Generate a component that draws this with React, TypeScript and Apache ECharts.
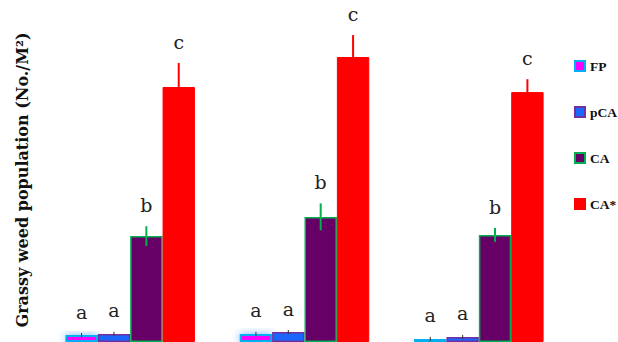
import React, { useEffect, useRef } from "react";
import * as echarts from "echarts";

const categories = ["Site 1", "Site 2", "Site 3"];
const seriesNames = ["FP", "pCA", "CA", "CA*"];
const fpValues = [2.3, 2.7, 1.0];
const pcaValues = [2.7, 3.3, 1.7];
const caValues = [35.3, 41.7, 35.7];
const caStarValues = [85, 95, 83.3];
const fpErr = [0.7, 0.7, 0.7];
const pcaErr = [0.7, 0.7, 0.7];
const caErr = [3.3, 4.5, 2.3];
const caStarErr = [8, 7.3, 4.3];
const fpLetters = ["a", "a", "a"];
const pcaLetters = ["a", "a", "a"];
const caLetters = ["b", "b", "b"];
const caStarLetters = ["c", "c", "c"];

const GAP = 0.257;

export default function App() {
  const ref = useRef<HTMLDivElement>(null);
  useEffect(() => {
    if (!ref.current) return;
    const chart = echarts.init(ref.current, null, { renderer: "svg" });
    const values = [fpValues, pcaValues, caValues, caStarValues];
    const errs = [fpErr, pcaErr, caErr, caStarErr];
    const letters = [fpLetters, pcaLetters, caLetters, caStarLetters];
    const styles = [
      { color: "#ff00ff", borderColor: "#00b0f0", borderWidth: 2, shadowBlur: 8, shadowColor: "rgba(40,140,255,0.7)" },
      { color: "#1a66ff", borderColor: "#7030a0", borderWidth: 1.5 },
      { color: "#660066", borderColor: "#00b050", borderWidth: 1.5 },
      { color: "#ff0000", borderColor: "#ff0000", borderWidth: 1 },
    ];
    const errColors = ["#333333", "#333333", "#00b050", "#ff0000"];
    const errWidths = [1, 1, 2, 2];

    const errData: any[] = [];
    const errLetters: string[] = [];
    for (let s = 0; s < 4; s++) {
      for (let c = 0; c < categories.length; c++) {
        errData.push([c, values[s][c], errs[s][c], s]);
        errLetters.push(letters[s][c]);
      }
    }

    const option: any = {
      animation: false,
      grid: { left: 43, width: 523, top: 0, bottom: 0 },
      xAxis: { type: "category", data: categories, show: false },
      yAxis: { type: "value", min: 0, max: 114, show: false },
      legend: {
        orient: "vertical",
        left: 569,
        top: 54,
        itemWidth: 10,
        itemHeight: 10,
        itemGap: 32,
        icon: "rect",
        textStyle: { fontFamily: "Liberation Serif", fontWeight: "bold", fontSize: 13.5, color: "#111" },
        data: seriesNames.map((n, i) => ({
          name: n,
          itemStyle: { color: styles[i].color, borderColor: styles[i].borderColor, borderWidth: 2, shadowBlur: 0 },
        })),
      },
      graphic: [
        {
          type: "text",
          x: 22,
          y: 180,
          rotation: Math.PI / 2,
          style: {
            text: "Grassy weed population (No./M²)",
            font: "bold 16px 'DejaVu Serif'",
            fill: "#111",
            align: "center",
            verticalAlign: "middle",
          },
        },
      ],
      series: [
        ...seriesNames.map((n, i) => ({
          name: n,
          type: "bar",
          data: values[i],
          barGap: "0%",
          barCategoryGap: GAP * 100 + "%",
          itemStyle: styles[i],
        })),
        {
          type: "custom",
          name: "err",
          data: errData,
          encode: { x: 0, y: 1 },
          z: 10,
          renderItem: (params: any, api: any) => {
            const cat = api.value(0);
            const val = api.value(1);
            const err = api.value(2);
            const s = api.value(3);
            const base = api.coord([cat, val]);
            const top = api.coord([cat, val + err]);
            const low = api.coord([cat, Math.max(0, val - err)]);
            const band = api.size([1, 0])[0];
            const bw = (band * (1 - GAP)) / 4;
            const x = base[0] + (s - 1.5) * bw;
            return {
              type: "group",
              children: [
                {
                  type: "line",
                  shape: { x1: x, y1: low[1], x2: x, y2: top[1] },
                  style: { stroke: errColors[s], lineWidth: errWidths[s] },
                },
                {
                  type: "text",
                  x: x,
                  y: top[1] - 12,
                  style: {
                    text: errLetters[params.dataIndex],
                    font: "19px 'DejaVu Serif'",
                    fill: "#222",
                    align: "center",
                    verticalAlign: "bottom",
                  },
                },
              ],
            };
          },
        },
      ],
    };
    chart.setOption(option);
    return () => chart.dispose();
  }, []);
  return (
    <div
      ref={ref}
      style={{ position: "absolute", left: 0, top: 0, width: 618, height: 342, background: "#fff" }}
    />
  );
}
